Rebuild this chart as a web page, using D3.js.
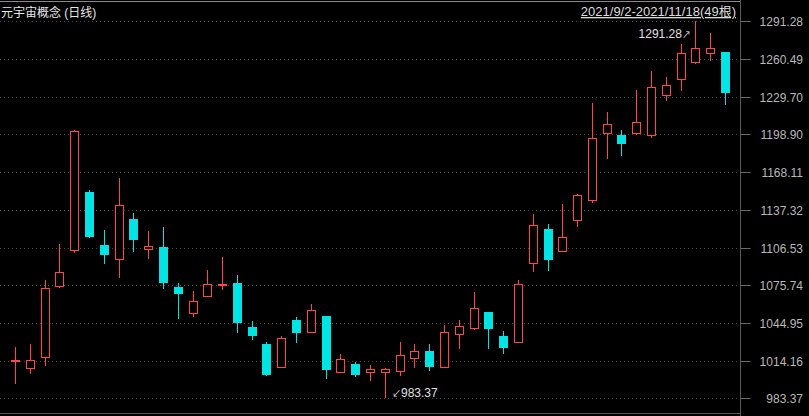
<!DOCTYPE html>
<html>
<head>
<meta charset="utf-8">
<script src="https://cdn.jsdelivr.net/npm/d3@7"></script>
<style>
html,body{margin:0;padding:0;background:#000;}
svg{display:block;}
</style>
</head>
<body>
<svg id="chart" width="809" height="416"></svg>
<script>
const dates = ["2021/9/2","2021/9/3","2021/9/6","2021/9/7","2021/9/8","2021/9/9","2021/9/10","2021/9/13","2021/9/14","2021/9/15","2021/9/16","2021/9/17","2021/9/22","2021/9/23","2021/9/24","2021/9/27","2021/9/28","2021/9/29","2021/9/30","2021/10/8","2021/10/11","2021/10/12","2021/10/13","2021/10/14","2021/10/15","2021/10/18","2021/10/19","2021/10/20","2021/10/21","2021/10/22","2021/10/25","2021/10/26","2021/10/27","2021/10/28","2021/10/29","2021/11/1","2021/11/2","2021/11/3","2021/11/4","2021/11/5","2021/11/8","2021/11/9","2021/11/10","2021/11/11","2021/11/12","2021/11/15","2021/11/16","2021/11/17","2021/11/18"];
const openV  = [1013.4,1007.5,1016.0,1074.0,1103.4,1151.9,1108.6,1096.6,1129.8,1104.8,1106.9,1074.3,1052.0,1066.4,1075.3,1077.5,1041.6,1027.7,1008.4,1047.3,1037.0,1050.6,1004.3,1011.4,1004.3,1004.3,1005.1,1015.7,1022.0,1008.4,1034.8,1039.7,1053.9,1034.3,1028.8,1092.8,1121.6,1103.1,1128.0,1144.8,1199.0,1198.2,1199.2,1197.9,1230.5,1243.6,1257.5,1264.3,1266.5];
const highV  = [1025.3,1027.7,1080.0,1109.4,1202.2,1153.5,1120.8,1163.3,1134.7,1120.0,1123.3,1077.5,1071.0,1088.2,1098.8,1084.1,1046.5,1029.1,1034.3,1049.8,1060.4,1050.8,1019.6,1012.8,1010.6,1007.9,1029.4,1027.7,1027.7,1043.2,1047.3,1070.2,1054.1,1038.4,1080.0,1133.9,1125.7,1142.1,1150.2,1224.5,1217.2,1202.5,1235.2,1250.7,1245.8,1272.7,1291.28,1281.7,1266.6];
const lowV   = [995.1,1003.5,1010.0,1073.8,1102.3,1114.3,1093.1,1081.6,1102.9,1097.2,1072.6,1048.1,1050.0,1066.0,1072.1,1037.0,1031.2,1001.6,1008.2,1028.8,1036.8,999.1,1004.1,1001.0,997.5,983.37,1001.8,1008.4,1005.9,1008.2,1023.6,1039.5,1023.6,1019.6,1028.6,1086.8,1087.6,1102.9,1123.5,1143.1,1179.1,1181.5,1198.6,1196.2,1226.4,1234.6,1256.6,1259.1,1223.2];
const closeV = [1014.6,1014.4,1073.2,1086.3,1202.0,1115.1,1100.4,1141.0,1112.7,1107.8,1077.8,1068.8,1062.6,1076.5,1076.5,1044.9,1034.3,1002.4,1032.4,1037.0,1055.2,1006.5,1015.2,1002.4,1007.1,1007.1,1018.5,1021.8,1009.2,1037.3,1042.2,1056.9,1040.2,1024.7,1076.5,1124.7,1096.6,1114.9,1149.2,1196.0,1207.1,1191.3,1208.8,1237.4,1239.0,1265.1,1269.2,1269.2,1233.0];
const tickLabels = ["983.37","1014.16","1044.95","1075.74","1106.53","1137.32","1168.11","1198.90","1229.70","1260.49","1291.28"];
const titleText = "元宇宙概念 (日线)";
const rangeText = "2021/9/2-2021/11/18(49根)";

const UP = "#ff4646", DOWN = "#00e4e4";
const svg = d3.select("#chart");
const W = 809, H = 416, axisX = 740.5;
const font = "'Liberation Sans', Arial, 'Noto Sans CJK SC', sans-serif";

const x = d3.scalePoint().domain(dates).range([15.5, 725.5]);
const y = d3.scaleLinear().domain([983.37, 1291.28]).range([398.3, 21.3]);
const ticks = tickLabels.map(Number);

// frame lines
svg.append("line").attr("x1",0).attr("x2",axisX).attr("y1",1.5).attr("y2",1.5).attr("stroke","#8a8a8a").attr("stroke-width",1);
svg.append("line").attr("x1",0).attr("x2",axisX).attr("y1",413.5).attr("y2",413.5).attr("stroke","#555").attr("stroke-width",1);

// grid
svg.append("g").selectAll("line").data(ticks).join("line")
  .attr("x1",0).attr("x2",737)
  .attr("y1",d=>Math.round(y(d))+0.5).attr("y2",d=>Math.round(y(d))+0.5)
  .attr("stroke","#4a4a4a").attr("stroke-dasharray","1,3");

// axis
const axis = d3.axisRight(y).tickValues(ticks).tickSize(10).tickPadding(0)
  .tickFormat((d,i)=>tickLabels[i]);
const ag = svg.append("g").attr("transform",`translate(${axisX},0)`).call(axis);
ag.select(".domain").remove();
ag.selectAll(".tick").attr("transform", d=>`translate(0,${Math.round(y(d))+0.5})`);
ag.selectAll(".tick line").attr("stroke","#6a6a6a");
ag.selectAll(".tick text").attr("x",62.5).attr("text-anchor","end").attr("dy","0.35em")
  .attr("fill","#b8b8b8").style("font-family",font).style("font-size","12px");
svg.append("line").attr("x1",axisX).attr("x2",axisX).attr("y1",0).attr("y2",H).attr("stroke","#5a5a5a");

// candles
const data = dates.map((d,i)=>({d, o:openV[i], h:highV[i], l:lowV[i], c:closeV[i]}));
const g = svg.append("g");
data.forEach(p=>{
  const cx = Math.floor(x(p.d)) + 0.5;
  const up = p.c >= p.o;
  const col = up ? UP : DOWN;
  g.append("line").attr("x1",cx).attr("x2",cx)
    .attr("y1",Math.round(y(p.h))).attr("y2",Math.round(y(p.l)))
    .attr("stroke",col).attr("stroke-width",1);
  const yTop = Math.round(y(Math.max(p.o,p.c)));
  const yBot = Math.round(y(Math.min(p.o,p.c)));
  if (up) {
    const hgt = yBot - yTop;
    if (hgt <= 2) {
      g.append("rect").attr("x",cx-4.5).attr("y",yTop).attr("width",9).attr("height",Math.max(hgt,2)).attr("fill",col);
    } else {
      g.append("rect").attr("x",cx-4).attr("y",yTop+0.5).attr("width",8).attr("height",hgt-1)
        .attr("fill","#000").attr("stroke",col).attr("stroke-width",1);
    }
  } else {
    g.append("rect").attr("x",cx-4.5).attr("y",yTop).attr("width",9).attr("height",Math.max(yBot-yTop,1)).attr("fill",col);
  }
});

// title texts
svg.append("text").attr("x",1).attr("y",17).text(titleText)
  .attr("fill","#e6e6e6").style("font-family",font).style("font-size","12px");
svg.append("text").attr("x",736).attr("y",16).attr("text-anchor","end").text(rangeText)
  .attr("fill","#dcdcdc").style("font-family",font).style("font-size","13px")
  .style("text-decoration","underline");

// max / min annotations
const iMax = d3.maxIndex(highV), iMin = d3.minIndex(lowV);
const tMax = svg.append("text").attr("x",Math.floor(x(dates[iMax]))-4).attr("y",y(highV[iMax])+17)
  .attr("text-anchor","end").attr("fill","#e0e0e0").style("font-family",font).style("font-size","12px");
tMax.append("tspan").text(highV[iMax].toFixed(2));
tMax.append("tspan").text("↗").style("font-size","9px");
const tMin = svg.append("text").attr("x",Math.floor(x(dates[iMin]))+7).attr("y",y(lowV[iMin])-1)
  .attr("fill","#e0e0e0").style("font-family",font).style("font-size","12px");
tMin.append("tspan").text("↙").style("font-size","9px");
tMin.append("tspan").text(lowV[iMin].toFixed(2));
</script>
</body>
</html>
